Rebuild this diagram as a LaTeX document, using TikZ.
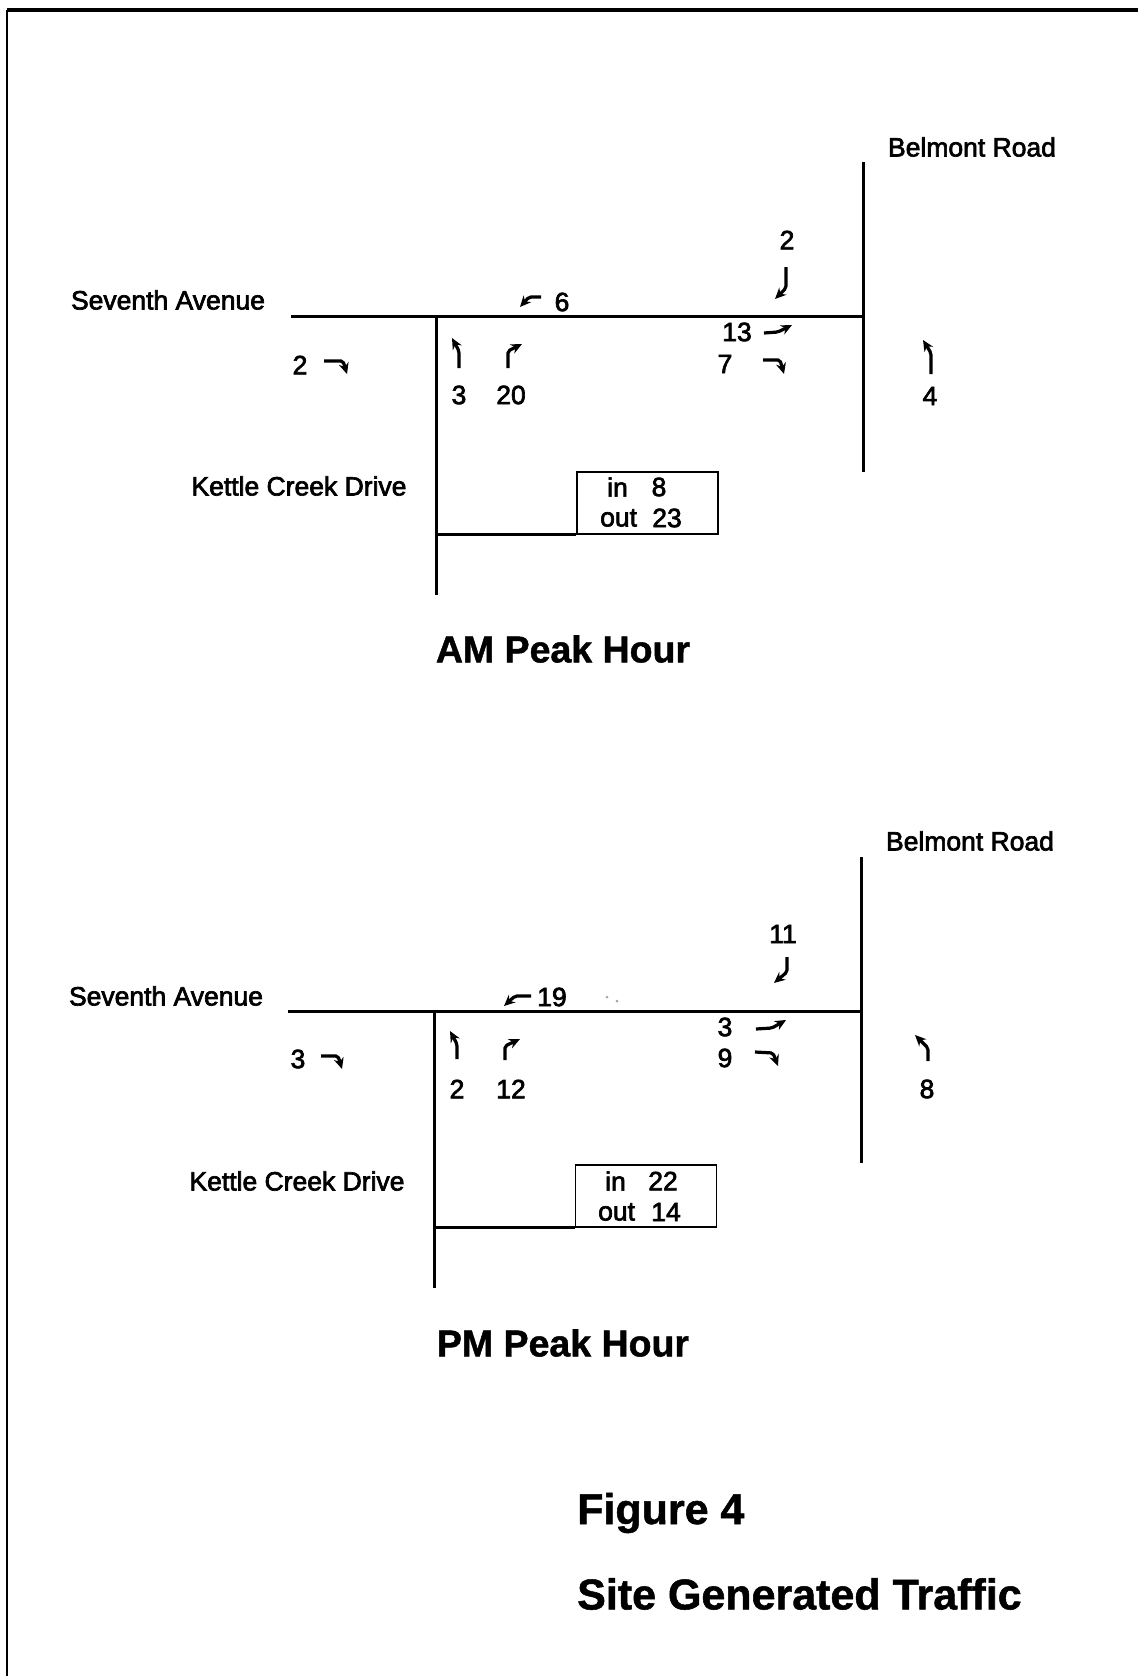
\documentclass[tikz,border=0pt]{standalone}
\usepackage{fontspec}
\setmainfont{Liberation Sans}
\newfontfamily\scanfont{Liberation Sans}[RawFeature={embolden=2.5}]
\newfontfamily\scanbold{Liberation Sans Bold}[RawFeature={embolden=1.2}]
\usetikzlibrary{arrows.meta}
\begin{document}
\begin{tikzpicture}[x=1pt,y=-1pt,
  road/.style={line width=3pt},
  lbl/.style={font=\scanfont\fontsize{26.5}{30}\selectfont, inner sep=0pt},
  title/.style={font=\scanbold\fontsize{37.5}{44}\selectfont, inner sep=0pt},
  big/.style={font=\scanbold\fontsize{43}{50}\selectfont, inner sep=0pt, anchor=west},
  mv/.style={line width=3.2pt, rounded corners=2pt, -{Stealth[length=11pt,width=10pt]}},
  tbox/.style={draw, line width=1.6pt, minimum width=141pt, minimum height=62pt, inner sep=0pt},
  frame/.style={line width=3pt}
]
\useasboundingbox (0,0) rectangle (1138,1676);
% frame
\coordinate (fbl) at (7,1676);
\coordinate (ftl) at (7,10);
\coordinate (ftr) at (1138,10);
\draw[line width=2pt] (fbl) -- (ftl);
\draw[line width=4pt] (ftl) -- (ftr);

% ================= AM =================
\coordinate (s1w) at (291,316); \coordinate (s1e) at (863,316);
\coordinate (b1n) at (863,162); \coordinate (b1s) at (863,472);
\coordinate (k1n) at (436,316); \coordinate (k1s) at (436,595);
\node[tbox] (box1) at (647.5,503) {};
\draw[road] (s1w) -- (s1e);
\draw[road] (b1n) -- (b1s);
\draw[road] (k1n) -- (k1s);
\draw[road] (k1n |- box1.south) -- (box1.south west);

\node[lbl] (bel1) at (972,147) {Belmont Road};
\node[lbl] (sev1) at (168,300) {Seventh Avenue};
\node[lbl] (ket1) at (299,486) {Kettle Creek Drive};
\node[lbl, anchor=west] (in1) at (607,487) {in};
\node[lbl] (in1n) at (659,487) {8};
\node[lbl, anchor=west] (out1) at (600,518) {out};
\node[lbl] (out1n) at (667,518) {23};

\node[lbl] (a1) at (787,240) {2};
\draw[mv] (786,267) -- (786,288) -- (775,299);
\draw[mv] (541,297) -- (529,297) -- (520,307);
\node[lbl] (a2) at (562,302) {6};
\node[lbl] (a3) at (300,365) {2};
\draw[mv] (324,361) -- (343,361) -- (347,374);
\draw[mv] (459,368) -- (459,351) -- (452,338);
\node[lbl] (a4) at (459,395) {3};
\draw[mv] (508,368) -- (508,351) -- (522,344);
\node[lbl] (a5) at (511,395) {20};
\node[lbl] (a6) at (737,332) {13};
\draw[mv] (764,333) -- (778,332) -- (792,325);
\node[lbl] (a7) at (725,364) {7};
\draw[mv] (763,360) -- (780,360) -- (784,374);
\draw[mv] (931,374) -- (931,353) -- (923,340);
\node[lbl] (a8) at (930,396) {4};

\node[title] (amt) at (563,649) {AM Peak Hour};

% ================= PM =================
\coordinate (s2w) at (288,1011); \coordinate (s2e) at (861,1011);
\coordinate (b2n) at (861,857); \coordinate (b2s) at (861,1163);
\coordinate (k2n) at (434,1011); \coordinate (k2s) at (434,1288);
\node[tbox] (box2) at (646,1196) {};
\draw[road] (s2w) -- (s2e);
\draw[road] (b2n) -- (b2s);
\draw[road] (k2n) -- (k2s);
\draw[road] (k2n |- box2.south) -- (box2.south west);

\node[lbl] (bel2) at (970,841) {Belmont Road};
\node[lbl] (sev2) at (166,996) {Seventh Avenue};
\node[lbl] (ket2) at (297,1181) {Kettle Creek Drive};
\node[lbl, anchor=west] (in2) at (605,1181) {in};
\node[lbl] (in2n) at (663,1181) {22};
\node[lbl, anchor=west] (out2) at (598,1212) {out};
\node[lbl] (out2n) at (666,1212) {14};

\node[lbl] (p1) at (783,934) {11};
\draw[mv] (787,957) -- (787,972) -- (774,983);
\draw[mv] (531,996) -- (515,996) -- (504,1006);
\node[lbl] (p2) at (552,997) {19};
\fill[gray!70] (607,997) circle (1.5pt) (617,1001) circle (1.5pt);
\node[lbl] (p3) at (298,1059) {3};
\draw[mv] (321,1056) -- (338,1056) -- (342,1069);
\draw[mv] (457,1059) -- (457,1044) -- (450,1031);
\node[lbl] (p4) at (457,1089) {2};
\draw[mv] (505,1060) -- (505,1046) -- (520,1039);
\node[lbl] (p5) at (511,1089) {12};
\node[lbl] (p6) at (725,1027) {3};
\draw[mv] (756,1029) -- (772,1028) -- (786,1020);
\node[lbl] (p7) at (725,1058) {9};
\draw[mv] (755,1052) -- (773,1053) -- (778,1066);
\draw[mv] (928,1061) -- (928,1048) -- (915,1035);
\node[lbl] (p8) at (927,1089) {8};

\node[title] (pmt) at (563,1343) {PM Peak Hour};

\node[big] (fig) at (577,1513) {Figure 4};
\node[big] (sgt) at (577,1594) {Site Generated Traffic};
\end{tikzpicture}
\end{document}
